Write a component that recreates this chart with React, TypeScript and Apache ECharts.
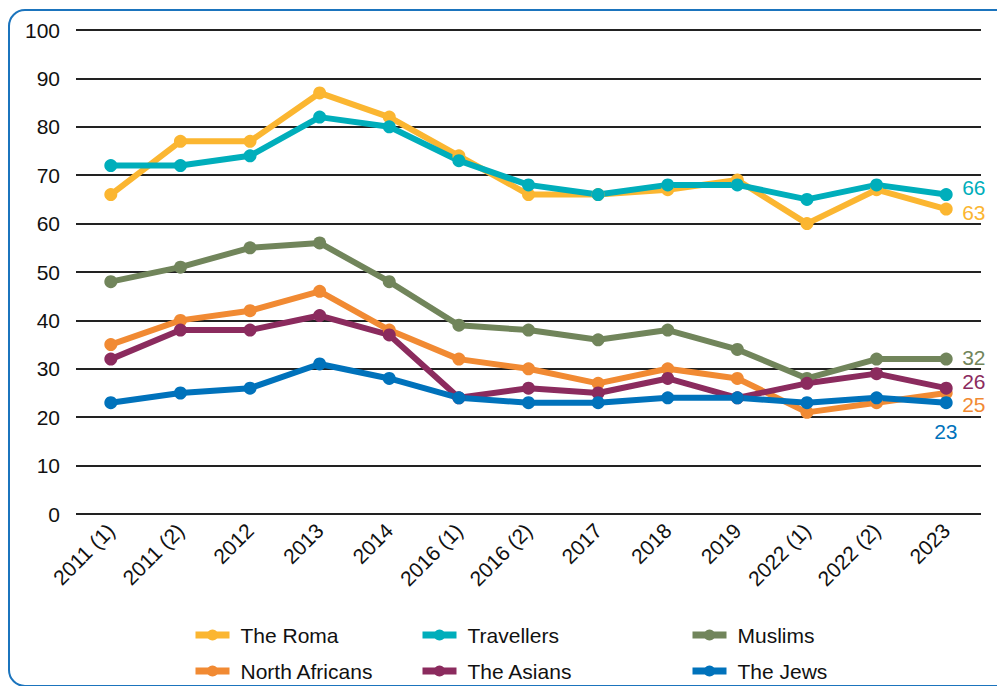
import React, { useEffect, useRef } from "react";
import * as echarts from "echarts";

const categories = ["2011 (1)", "2011 (2)", "2012", "2013", "2014", "2016 (1)", "2016 (2)", "2017", "2018", "2019", "2022 (1)", "2022 (2)", "2023"];
const roma = [66, 77, 77, 87, 82, 74, 66, 66, 67, 69, 60, 67, 63];
const travellers = [72, 72, 74, 82, 80, 73, 68, 66, 68, 68, 65, 68, 66];
const muslims = [48, 51, 55, 56, 48, 39, 38, 36, 38, 34, 28, 32, 32];
const northAfricans = [35, 40, 42, 46, 38, 32, 30, 27, 30, 28, 21, 23, 25];
const asians = [32, 38, 38, 41, 37, 24, 26, 25, 28, 24, 27, 29, 26];
const jews = [23, 25, 26, 31, 28, 24, 23, 23, 24, 24, 23, 24, 23];

const seriesDefs = [
  { name: "The Roma", data: roma, color: "#FBB631", offset: [8, 3] },
  { name: "Travellers", data: travellers, color: "#00AEBB", offset: [8, -7] },
  { name: "Muslims", data: muslims, color: "#71855B", offset: [8, -2] },
  { name: "North Africans", data: northAfricans, color: "#F18A33", offset: [8, 11] },
  { name: "The Asians", data: asians, color: "#8B2B5E", offset: [8, -7] },
  { name: "The Jews", data: jews, color: "#0072BB", offset: [-20, 29] },
];

export default function App() {
  const ref = useRef<HTMLDivElement>(null);
  useEffect(() => {
    const chart = echarts.init(ref.current!, null, { renderer: "svg" });
    const font = "Liberation Sans, Arial, sans-serif";
    chart.setOption({
      animation: false,
      backgroundColor: "#fff",
      textStyle: { fontFamily: font },
      graphic: [
        {
          type: "rect",
          shape: { x: 9, y: 10, width: 1010, height: 676, r: 16 },
          style: { fill: "none", stroke: "#1B74BD", lineWidth: 2 },
          z: -1,
        },
      ],
      grid: { left: 76, right: 16, top: 30, bottom: 172, containLabel: false },
      legend: [
        { left: 192, data: ["The Roma", "North Africans"] },
        { left: 419, data: ["Travellers", "The Asians"] },
        { left: 689, data: ["Muslims", "The Jews"] },
      ].map((l) => ({
        ...l,
        top: 624,
        height: 80,
        orient: "vertical",
        padding: 0,
        itemGap: 14,
        itemWidth: 34,
        itemHeight: 14,
        lineStyle: { width: 7 },
        textStyle: { fontSize: 21, lineHeight: 22, color: "#111", fontFamily: font, padding: [0, 0, 0, 6] },
      })),
      xAxis: {
        type: "category",
        data: categories,
        boundaryGap: true,
        axisLine: { show: false },
        axisTick: { show: false },
        axisLabel: { rotate: 45, fontSize: 21, color: "#111", margin: 13, interval: 0 },
      },
      yAxis: {
        type: "value",
        min: 0,
        max: 100,
        interval: 10,
        axisLine: { show: false },
        axisTick: { show: false },
        axisLabel: { fontSize: 21, color: "#111", margin: 16 },
        splitLine: { lineStyle: { color: "#222", width: 2 } },
      },
      series: seriesDefs.map((s) => ({
        name: s.name,
        type: "line",
        data: s.data,
        color: s.color,
        symbol: "circle",
        symbolSize: 13,
        lineStyle: { width: 6, color: s.color },
        itemStyle: { color: s.color },
        endLabel: {
          show: true,
          formatter: "{c}",
          color: s.color,
          fontSize: 21,
          fontFamily: font,
          offset: s.offset,
        },
      })),
    });
    return () => chart.dispose();
  }, []);
  return (
    <div
      ref={ref}
      style={{ position: "fixed", left: 0, top: 0, width: 997, height: 686 }}
    />
  );
}
